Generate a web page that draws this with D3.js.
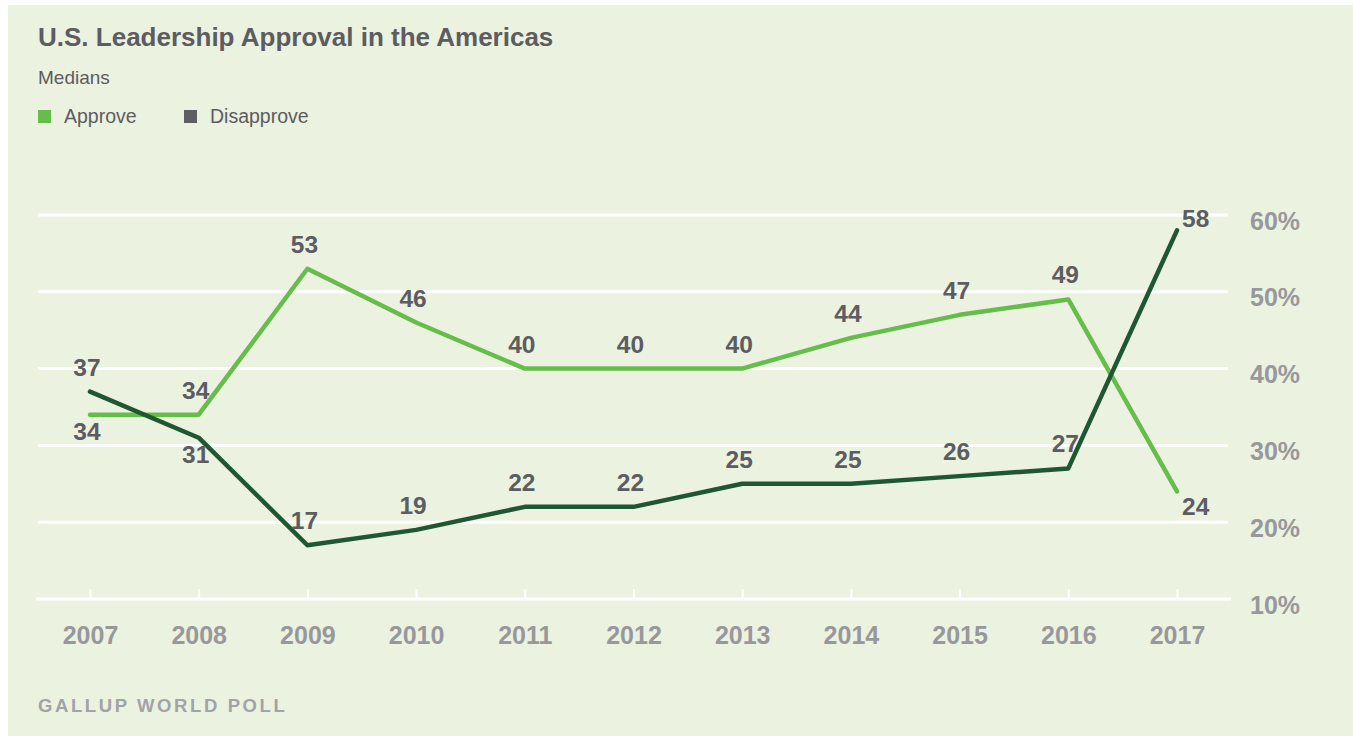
<!DOCTYPE html>
<html>
<head>
<meta charset="utf-8">
<script src="https://cdn.jsdelivr.net/npm/d3@7"></script>
<style>
  html, body { margin: 0; padding: 0; background: #ffffff; }
  svg { display: block; font-family: "Liberation Sans", Arial, Helvetica, sans-serif; }
</style>
</head>
<body>
<svg id="chart" width="1353" height="736"></svg>
<script>
// ---- Data ----
const years = ["2007","2008","2009","2010","2011","2012","2013","2014","2015","2016","2017"];
const approve = [34, 34, 53, 46, 40, 40, 40, 44, 47, 49, 24];
const disapprove = [37, 31, 17, 19, 22, 22, 25, 25, 26, 27, 58];
const yTicks = [10, 20, 30, 40, 50, 60];
const seriesNames = ["Approve", "Disapprove"];

// ---- Layout / style ----
const W = 1353, H = 736;
const colApprove = "#66bd4b";
const colDisapprove = "#1f5733";
const colLegendDis = "#5e5e63";
const colText = "#5c5c61";
const colAxis = "#98989c";
const bg = "#ebf2df";

const svg = d3.select("#chart");
svg.append("rect").attr("x", 0).attr("y", 0).attr("width", W).attr("height", H).attr("fill", "#ffffff");
svg.append("rect").attr("x", 8).attr("y", 5).attr("width", W - 8).attr("height", H - 5).attr("fill", bg);

const x = d3.scalePoint().domain(years).range([90, 1177]);
const y = d3.scaleLinear().domain([10, 60]).range([599, 215]);

// Title
svg.append("text").attr("x", 38).attr("y", 46)
  .attr("font-size", 26).attr("font-weight", "bold").attr("fill", colText)
  .text("U.S. Leadership Approval in the Americas");
svg.append("text").attr("x", 38).attr("y", 84)
  .attr("font-size", 19).attr("fill", colText).text("Medians");

// Legend
const legend = svg.append("g");
const legendItems = [
  {name: seriesNames[0], color: colApprove, x: 38},
  {name: seriesNames[1], color: colLegendDis, x: 184}
];
legendItems.forEach(d => {
  legend.append("rect").attr("x", d.x).attr("y", 110).attr("width", 13).attr("height", 13).attr("fill", d.color);
  legend.append("text").attr("x", d.x + 26).attr("y", 123)
    .attr("font-size", 19.5).attr("fill", colText).text(d.name);
});

// Gridlines
svg.append("g").selectAll("line").data(yTicks.filter(t => t !== 10)).join("line")
  .attr("x1", 38).attr("x2", 1228)
  .attr("y1", d => y(d)).attr("y2", d => y(d))
  .attr("stroke", "#ffffff").attr("stroke-width", 3);

// Bottom axis
const xAxis = d3.axisBottom(x).tickSize(0).tickPadding(0);
const gx = svg.append("g").attr("transform", `translate(0,${y(10)})`).call(xAxis);
gx.select(".domain").remove();
gx.selectAll(".tick text")
  .attr("font-size", 25).attr("font-weight", "bold").attr("fill", colAxis)
  .attr("font-family", "Liberation Sans, Arial, sans-serif")
  .attr("dy", 0).attr("y", 45);
gx.append("line").attr("x1", 36).attr("x2", 1231).attr("y1", 0).attr("y2", 0)
  .attr("stroke", "#ffffff").attr("stroke-width", 3);
gx.selectAll(".tick").append("line").attr("y1", 0).attr("y2", -10)
  .attr("stroke", "#ffffff").attr("stroke-width", 2);

// Right y labels
const yAxis = d3.axisRight(y).tickValues(yTicks).tickSize(0).tickFormat(d => d + "%");
const gy = svg.append("g").attr("transform", "translate(1250,0)").call(yAxis);
gy.select(".domain").remove();
gy.selectAll(".tick text")
  .attr("x", 0).attr("dy", 14).attr("text-anchor", "start")
  .attr("font-size", 25).attr("font-weight", "bold").attr("fill", colAxis)
  .attr("font-family", "Liberation Sans, Arial, sans-serif");

// Lines
const line = d3.line().x((d, i) => x(years[i])).y(d => y(d));
svg.append("path").datum(approve).attr("d", line)
  .attr("fill", "none").attr("stroke", colApprove).attr("stroke-width", 4.5)
  .attr("stroke-linejoin", "round").attr("stroke-linecap", "round");
svg.append("path").datum(disapprove).attr("d", line)
  .attr("fill", "none").attr("stroke", colDisapprove).attr("stroke-width", 4.5)
  .attr("stroke-linejoin", "round").attr("stroke-linecap", "round");

// Data labels
function placement(series, i) {
  const last = i === years.length - 1;
  if (last) return series === "approve" ? "rightBelow" : "rightAbove";
  if (series === "approve" && i === 0) return "below";
  if (series === "disapprove" && i === 1) return "below";
  return "above";
}
function addLabels(vals, series) {
  svg.append("g").selectAll("text").data(vals).join("text")
    .attr("font-size", 24.5).attr("font-weight", "bold").attr("fill", colText)
    .each(function(d, i) {
      const p = placement(series, i);
      const px = x(years[i]), py = y(d);
      const t = d3.select(this).text(d);
      if (p === "above") t.attr("x", px - 3).attr("y", py - 16).attr("text-anchor", "middle");
      else if (p === "below") t.attr("x", px - 3).attr("y", py + 25).attr("text-anchor", "middle");
      else if (p === "rightAbove") t.attr("x", px + 5).attr("y", py - 3).attr("text-anchor", "start");
      else t.attr("x", px + 5).attr("y", py + 24).attr("text-anchor", "start");
    });
}
addLabels(approve, "approve");
addLabels(disapprove, "disapprove");

// Footer
svg.append("text").attr("x", 38).attr("y", 712)
  .attr("font-size", 18.5).attr("font-weight", "bold").attr("fill", "#a2a2a7")
  .attr("letter-spacing", 2.6).text("GALLUP WORLD POLL");
</script>
</body>
</html>
